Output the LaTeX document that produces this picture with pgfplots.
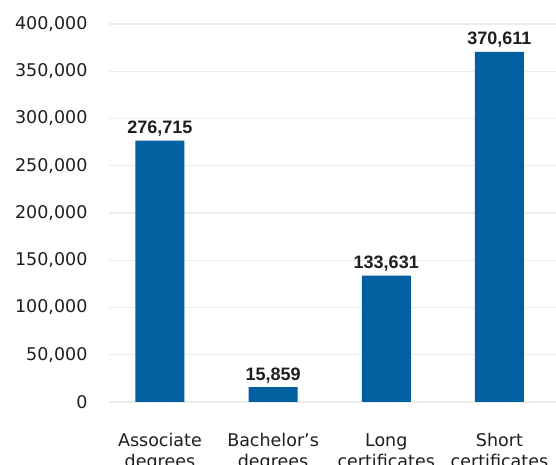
\documentclass[border=0pt]{standalone}
\usepackage{pgfplots}
\pgfplotsset{compat=1.18}
\usepackage{fontspec}
\setmainfont{DejaVu Sans}
\newfontfamily\labelfont{Liberation Sans}
\definecolor{barblue}{RGB}{0,96,160}
\definecolor{txt}{RGB}{30,30,30}
\definecolor{gridc}{RGB}{236,236,236}
\begin{document}
\begin{tikzpicture}
\begin{axis}[
  at={(0pt,0pt)}, anchor=south west,
  scale only axis, width=447pt, height=378pt,
  xmin=-0.45, xmax=3.5, ymin=0, ymax=400000,
  ytick={0,50000,...,400000},
  scaled y ticks=false,
  /pgf/number format/.cd, fixed, precision=0, 1000 sep={,}, assume math mode=true,
  /pgfplots/.cd,
  xtick=data,
  xticklabels={Associate\\degrees, Bachelor’s\\degrees, Long\\certificates, Short\\certificates},
  xticklabel style={align=center, anchor=base, yshift=-61pt, font=\fontsize{17.5}{21}\selectfont, text=txt},
  yticklabel style={anchor=east, xshift=-18pt, font=\fontsize{17.5}{21}\selectfont, text=txt},
  axis line style={draw=none},
  major tick style={draw=none},
  ymajorgrids, grid style={color=gridc, line width=1.2pt},
  ybar, bar width=49pt,
  nodes near coords={\pgfmathprintnumber[fixed,precision=0,1000 sep={,}]{\pgfplotspointmeta}},
  nodes near coords style={anchor=base, yshift=7pt, font=\labelfont\bfseries\fontsize{18}{21}\selectfont, text=txt},
]
\addplot[fill=barblue, draw=none] coordinates {(0,276715) (1,15859) (2,133631) (3,370611)};
\end{axis}
\pgfresetboundingbox
\useasboundingbox (-109pt,-63pt) rectangle (447pt,402pt);
\end{tikzpicture}
\end{document}
